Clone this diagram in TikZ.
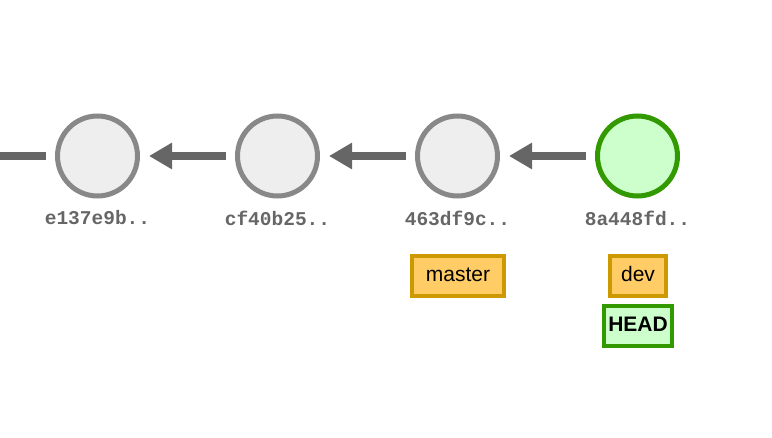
\documentclass[tikz,border=0pt]{standalone}
\usepackage{fontspec}
\setmainfont{Liberation Sans}
\newfontfamily\monofont{Liberation Mono}
\usetikzlibrary{arrows.meta}
\definecolor{cfill}{HTML}{EEEEEE}
\definecolor{cdraw}{HTML}{888888}
\definecolor{gfill}{HTML}{CCFFCC}
\definecolor{gdraw}{HTML}{339900}
\definecolor{bfill}{HTML}{FFCC66}
\definecolor{bdraw}{HTML}{CC9900}
\definecolor{arr}{HTML}{666666}
\definecolor{lbl}{HTML}{666666}
\begin{document}
\begin{tikzpicture}[x=1pt,y=-1pt,
  commit/.style={circle,draw=cdraw,fill=cfill,line width=5pt,minimum size=80pt,inner sep=0pt},
  headcommit/.style={commit,draw=gdraw,fill=gfill},
  sha/.style={font=\monofont\bfseries\fontsize{19.5}{20}\selectfont,text=lbl,inner sep=0pt},
  branch/.style={draw=bdraw,fill=bfill,line width=4pt,font=\fontsize{21}{22}\selectfont,inner sep=0pt,text height=15pt,text depth=4pt},
  headbox/.style={draw=gdraw,fill=gfill,line width=3.5pt,font=\bfseries\fontsize{21}{22}\selectfont,inner sep=0pt,text height=15pt,text depth=4pt},
  link/.style={draw=arr,line width=8pt,-{Triangle[length=23pt,width=25pt]},shorten >=9pt,shorten <=9pt}]
\useasboundingbox (0,0) rectangle (772,438);
\node[commit] (c1) at (97.5,156) {};
\node[commit] (c2) at (277.5,156) {};
\node[commit] (c3) at (457.5,156) {};
\node[headcommit] (c4) at (637.5,156) {};
\coordinate (left) at (0,156);
\draw[draw=arr,line width=8pt,shorten >=0pt] (c1.west) ++(-9,0) coordinate (le) -- (left);
\draw[link] (c2) -- (c1);
\draw[link] (c3) -- (c2);
\draw[link] (c4) -- (c3);
\node[sha] (s1) at (97.5,218) {e137e9b..};
\node[sha] (s2) at (277.5,218) {cf40b25..};
\node[sha] (s3) at (457.5,218) {463df9c..};
\node[sha] (s4) at (637.5,218) {8a448fd..};
\node[branch,minimum width=92pt,minimum height=40pt] (master) at (458,276) {master};
\node[branch,minimum width=56pt,minimum height=40pt] (dev) at (638,276) {dev};
\node[headbox,minimum width=68pt,minimum height=40pt] (head) at (638,326) {HEAD};
\end{tikzpicture}
\end{document}
